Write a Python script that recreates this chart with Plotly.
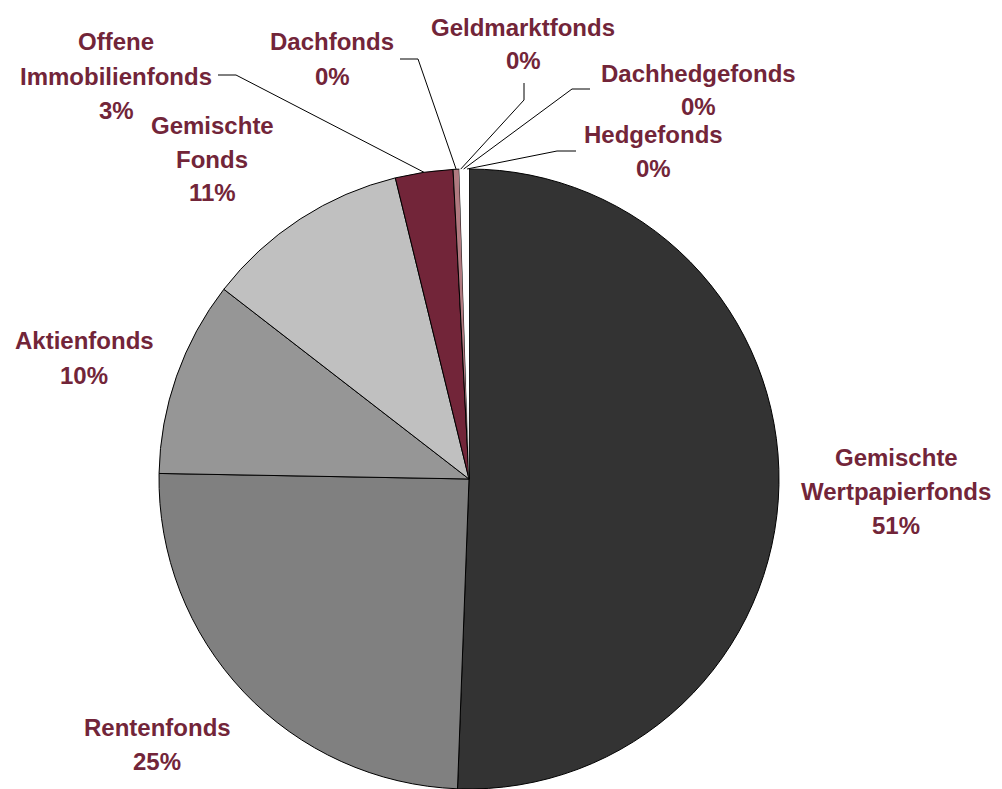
import math
import plotly.graph_objects as go

# fund categories, in order clockwise from 12 o'clock
labels = ["Gemischte Wertpapierfonds", "Rentenfonds", "Aktienfonds", "Gemischte Fonds",
          "Offene Immobilienfonds", "Dachfonds", "Geldmarktfonds", "Dachhedgefonds", "Hedgefonds"]
shares = [50.6, 24.7, 10.2, 10.7, 3.0, 0.32, 0.15, 0.15, 0.2]
pct_text = ["51%", "25%", "10%", "11%", "3%", "0%", "0%", "0%", "0%"]
label_lines = [["Gemischte", "Wertpapierfonds"], ["Rentenfonds"], ["Aktienfonds"], ["Gemischte", "Fonds"],
               ["Offene", "Immobilienfonds"], ["Dachfonds"], ["Geldmarktfonds"], ["Dachhedgefonds"], ["Hedgefonds"]]
colors = ["#333333", "#808080", "#969696", "#C0C0C0", "#722539", "#B07A80", "#FFFFFF", "#FFFFFF", "#FFFFFF"]
edge_w = [1, 1, 1, 1, 1, 1, 0, 0, 0]

W, H = 1002, 789
OFF = 8  # page margin around the plot div
CX, CY, R = 469, 479, 310
TXT = "#722539"

# where each label block sits (centre x, y of first line) in screen pixels
label_pos = [(896, 457), (157, 727), (84, 341), (212, 125), (116, 42),
             (332, 42), (523, 27), (698, 73), (653, 135)]
LINE_H = 34

# leader lines: bend points near the labels (pixels), only for the small slices
leaders = {
    4: [(218, 75), (236, 75)],
    5: [(400, 59), (418, 59)],
    6: [(524, 83), (524, 100)],
    7: [(590, 89), (572, 89)],
    8: [(576, 151), (557, 151)],
}


def px(x, y):
    return (x - OFF) / W, 1 - (y - OFF) / H


d0 = px(CX - R, CY + R)
d1 = px(CX + R, CY - R)

fig = go.Figure(go.Pie(
    labels=labels,
    values=shares,
    sort=False,
    direction="clockwise",
    rotation=0,
    textinfo="none",
    hoverinfo="label+percent",
    marker=dict(colors=colors, line=dict(color="#000000", width=edge_w)),
    domain=dict(x=[d0[0], d1[0]], y=[max(d0[1], 0), d1[1]]),
    showlegend=False,
))

annotations = []
for i, lines in enumerate(label_lines):
    x0, y0 = label_pos[i]
    for k, t in enumerate(lines + [pct_text[i]]):
        ax, ay = px(x0, y0 + k * LINE_H)
        annotations.append(dict(x=ax, y=ay, xref="paper", yref="paper", text=t, showarrow=False,
                                xanchor="center", yanchor="middle",
                                font=dict(family="Liberation Sans, Arial", size=24, color=TXT,
                                          weight="bold")))

# leader line end on the slice edge at its mid angle
total = sum(shares)
cum = 0
shapes = []
for i, v in enumerate(shares):
    mid = (cum + v / 2) / total * 2 * math.pi
    cum += v
    if i not in leaders:
        continue
    ex, ey = CX + R * math.sin(mid), CY - R * math.cos(mid)
    pts = leaders[i] + [(ex, ey)]
    for (xa, ya), (xb, yb) in zip(pts[:-1], pts[1:]):
        p0, p1 = px(xa, ya), px(xb, yb)
        shapes.append(dict(type="line", xref="paper", yref="paper", x0=p0[0], y0=p0[1], x1=p1[0], y1=p1[1],
                           line=dict(color="#000000", width=1)))

fig.update_layout(
    width=W, height=H,
    margin=dict(l=0, r=0, t=0, b=0),
    paper_bgcolor="white",
    plot_bgcolor="white",
    annotations=annotations,
    shapes=shapes,
)

fig.write_html("out.html")
